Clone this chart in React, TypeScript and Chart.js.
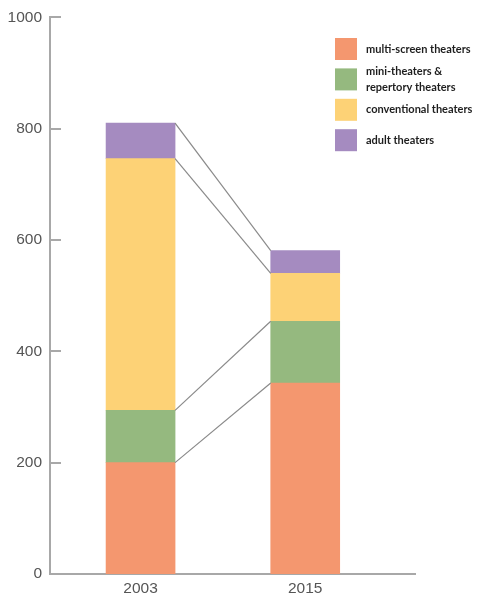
import React, { useEffect, useRef } from "react";
import { Chart, registerables } from "chart.js";

Chart.register(...registerables);

// Survey years (x categories)
const years = [2003, 2015];

// Number of screens per theater type, stacked bottom to top
const multiScreen = [200, 343];
const miniRepertory = [94, 111];
const conventional = [452, 86];
const adult = [64, 41];

const seriesNames = [
  "multi-screen theaters",
  "mini-theaters &\nrepertory theaters",
  "conventional theaters",
  "adult theaters",
];
const seriesColors = ["#F4976F", "#95B97F", "#FDD276", "#A58BC0"];

const yTicks = [0, 200, 400, 600, 800, 1000];

const AXIS_COLOR = "#a8a8a8";

// Lines joining the top of each segment across the two bars
const connectorPlugin = {
  id: "connectors",
  afterDatasetsDraw(chart: any) {
    const ctx = chart.ctx;
    ctx.save();
    ctx.strokeStyle = "#8a8a8a";
    ctx.lineWidth = 1.2;
    chart.data.datasets.forEach((_: any, d: number) => {
      const els = chart.getDatasetMeta(d).data;
      for (let i = 0; i < els.length - 1; i++) {
        const a = els[i];
        const b = els[i + 1];
        ctx.beginPath();
        ctx.moveTo(a.x + a.width / 2, a.y);
        ctx.lineTo(b.x - b.width / 2, b.y);
        ctx.stroke();
      }
    });
    ctx.restore();
  },
};

// Short tick marks pointing into the plot from the y axis
const innerTicksPlugin = {
  id: "innerTicks",
  afterDraw(chart: any) {
    const ctx = chart.ctx;
    const y = chart.scales.y;
    const left = chart.chartArea.left;
    ctx.save();
    ctx.strokeStyle = AXIS_COLOR;
    ctx.lineWidth = 2;
    y.ticks.forEach((t: any) => {
      const py = Math.round(y.getPixelForValue(t.value));
      ctx.beginPath();
      ctx.moveTo(left, py);
      ctx.lineTo(left + 11, py);
      ctx.stroke();
    });
    ctx.restore();
  },
};

// Legend box in the upper right corner
const legendPlugin = {
  id: "sideLegend",
  afterDraw(chart: any) {
    const ctx = chart.ctx;
    const boxX = 335;
    const boxSize = 22;
    const startY = 38;
    const step = 30.4;
    ctx.save();
    ctx.font = "bold 11px Lato, 'Open Sans', sans-serif";
    ctx.textBaseline = "middle";
    chart.data.datasets.forEach((ds: any, i: number) => {
      const top = startY + i * step;
      ctx.fillStyle = ds.backgroundColor;
      ctx.fillRect(boxX, top, boxSize, boxSize);
      ctx.fillStyle = "#1e1e1e";
      const lines = String(ds.label).split("\n");
      const cy = top + boxSize / 2;
      const lh = 16;
      lines.forEach((line, k) => {
        const ly = cy + (k - (lines.length - 1) / 2) * lh;
        ctx.fillText(line, boxX + 31, ly);
      });
    });
    ctx.restore();
  },
};

export default function App() {
  const canvasRef = useRef<HTMLCanvasElement | null>(null);

  useEffect(() => {
    if (!canvasRef.current) return;
    const series = [multiScreen, miniRepertory, conventional, adult];
    const chart = new Chart(canvasRef.current, {
      type: "bar",
      data: {
        datasets: series.map((vals, i) => ({
          label: seriesNames[i],
          data: years.map((yr, j) => ({ x: yr, y: vals[j] })),
          backgroundColor: seriesColors[i],
          borderWidth: 0,
          barThickness: 69,
        })),
      },
      options: {
        animation: false,
        responsive: false,
        maintainAspectRatio: false,
        layout: { padding: { top: 15, right: 62, bottom: 0, left: 0 } },
        plugins: {
          legend: { display: false },
          tooltip: { enabled: false },
        },
        scales: {
          x: {
            type: "linear",
            stacked: true,
            offset: false,
            min: 1996.4,
            max: 2023,
            afterBuildTicks: (scale: any) => {
              scale.ticks = years.map((v) => ({ value: v }));
            },
            afterFit: (scale: any) => {
              scale.height = 25;
            },
            grid: { display: false, drawTicks: false, offset: false },
            border: { display: true, color: AXIS_COLOR, width: 2 },
            ticks: {
              padding: 5,
              color: "#555",
              font: { family: "'Liberation Sans', Arial, sans-serif", size: 15.5 },
              callback: (v: any) => String(v),
              maxRotation: 0,
            },
          },
          y: {
            stacked: true,
            min: 0,
            max: 1000,
            afterBuildTicks: (scale: any) => {
              scale.ticks = yTicks.map((v) => ({ value: v }));
            },
            afterFit: (scale: any) => {
              scale.width = 50;
            },
            grid: { display: false, drawTicks: false },
            border: { display: true, color: AXIS_COLOR, width: 2 },
            ticks: {
              padding: 8,
              color: "#555",
              font: { family: "'Liberation Sans', Arial, sans-serif", size: 15.5 },
              callback: (v: any) => String(v),
            },
          },
        },
      },
      plugins: [connectorPlugin, innerTicksPlugin, legendPlugin],
    });
    return () => chart.destroy();
  }, []);

  return (
    <div style={{ position: "fixed", left: 0, top: 0, width: 477, height: 599, background: "#fff" }}>
      <canvas ref={canvasRef} width={477} height={599} style={{ width: 477, height: 599 }} />
    </div>
  );
}
